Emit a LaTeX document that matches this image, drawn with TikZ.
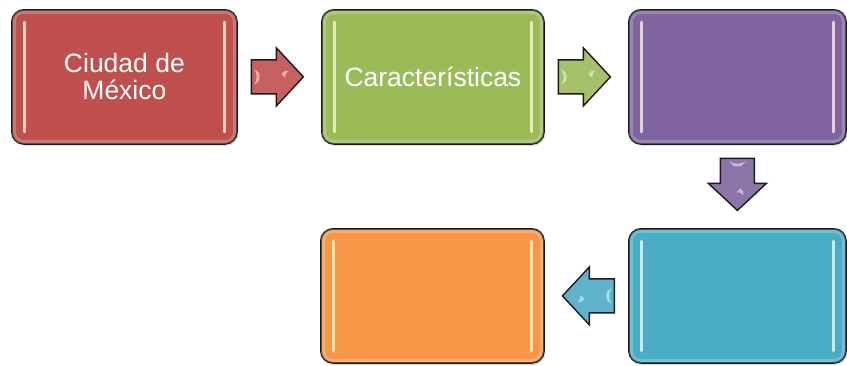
\documentclass[tikz,border=0pt]{standalone}
\usepackage{fontspec}
\setmainfont{Liberation Sans}
\usetikzlibrary{calc,shadows}
\definecolor{cred}{HTML}{C0504D}
\definecolor{cgreen}{HTML}{9BBB59}
\definecolor{cpurple}{HTML}{8064A2}
\definecolor{cblue}{HTML}{4BACC6}
\definecolor{corange}{HTML}{F79646}
\definecolor{cedge}{HTML}{1A1A1A}
\tikzset{
  box/.style={rounded corners=12pt, draw=cedge, line width=1.8pt, anchor=north west,
    inner sep=0pt, text=white, align=center,
    font=\fontsize{26.5pt}{27pt}\selectfont,
    drop shadow={opacity=0.25, shadow xshift=1.5pt, shadow yshift=-2pt}},
  hl/.style={white!85!yellow, opacity=0.75, line width=3pt, line cap=round},
  glow/.style={white, opacity=0.22, line width=4pt, rounded corners=9pt},
  barrow/.pic={
    \draw[line width=1.4pt, draw=cedge, fill=#1!90!white, line join=miter]
      (-26,-17) -- (-1,-17) -- (-1,-29) -- (26,0) -- (-1,29) -- (-1,17) -- (-26,17) -- cycle;
    \fill[white, opacity=0.5] (-23,-8) .. controls (-18,-4) .. (-18,0) .. controls (-18,4) .. (-23,8) .. controls (-20,3) and (-20,-3) .. cycle;
    \fill[white, opacity=0.5] (4,-3) .. controls (7,-6) .. (11,-6) .. controls (8,-3) .. (8,1) .. controls (6,-1) .. cycle;
  }
}
\newcommand{\gloss}[1]{%
  \draw[hl] ([xshift=13pt,yshift=-13pt]#1.north west) -- ([xshift=13pt,yshift=13pt]#1.south west);
  \draw[hl] ([xshift=-13pt,yshift=-13pt]#1.north east) -- ([xshift=-13pt,yshift=13pt]#1.south east);
  \draw[glow] ([xshift=3pt,yshift=-3pt]#1.north west) rectangle ([xshift=-3pt,yshift=3pt]#1.south east);
}
\begin{document}
\begin{tikzpicture}[x=1pt,y=-1pt]
\useasboundingbox (0,0) rectangle (847,365);
\node[box, fill=cred, minimum width=225pt, minimum height=134pt] (n1) at (11,9) {Ciudad de\\México};
\node[box, fill=cgreen, minimum width=222pt, minimum height=134pt] (n2) at (321,9) {Características};
\node[box, fill=cpurple, minimum width=217pt, minimum height=134pt] (n3) at (628,9) {};
\node[box, fill=cblue, minimum width=217pt, minimum height=134pt] (n4) at (628,228) {};
\node[box, fill=corange, minimum width=223pt, minimum height=134pt] (n5) at (320,228) {};
\gloss{n1}\gloss{n2}\gloss{n3}\gloss{n4}\gloss{n5}
\pic at ([xshift=-2pt]$(n1.east)!0.5!(n2.west)$) {barrow=cred};
\pic at ([xshift=-2pt]$(n2.east)!0.5!(n3.west)$) {barrow=cgreen};
\pic[rotate=-90] at ([yshift=2pt]$(n3.south)!0.5!(n4.north)$) {barrow=cpurple};
\pic[rotate=180] at ([xshift=2pt]$(n4.west)!0.5!(n5.east)$) {barrow=cblue};
\end{tikzpicture}
\end{document}
